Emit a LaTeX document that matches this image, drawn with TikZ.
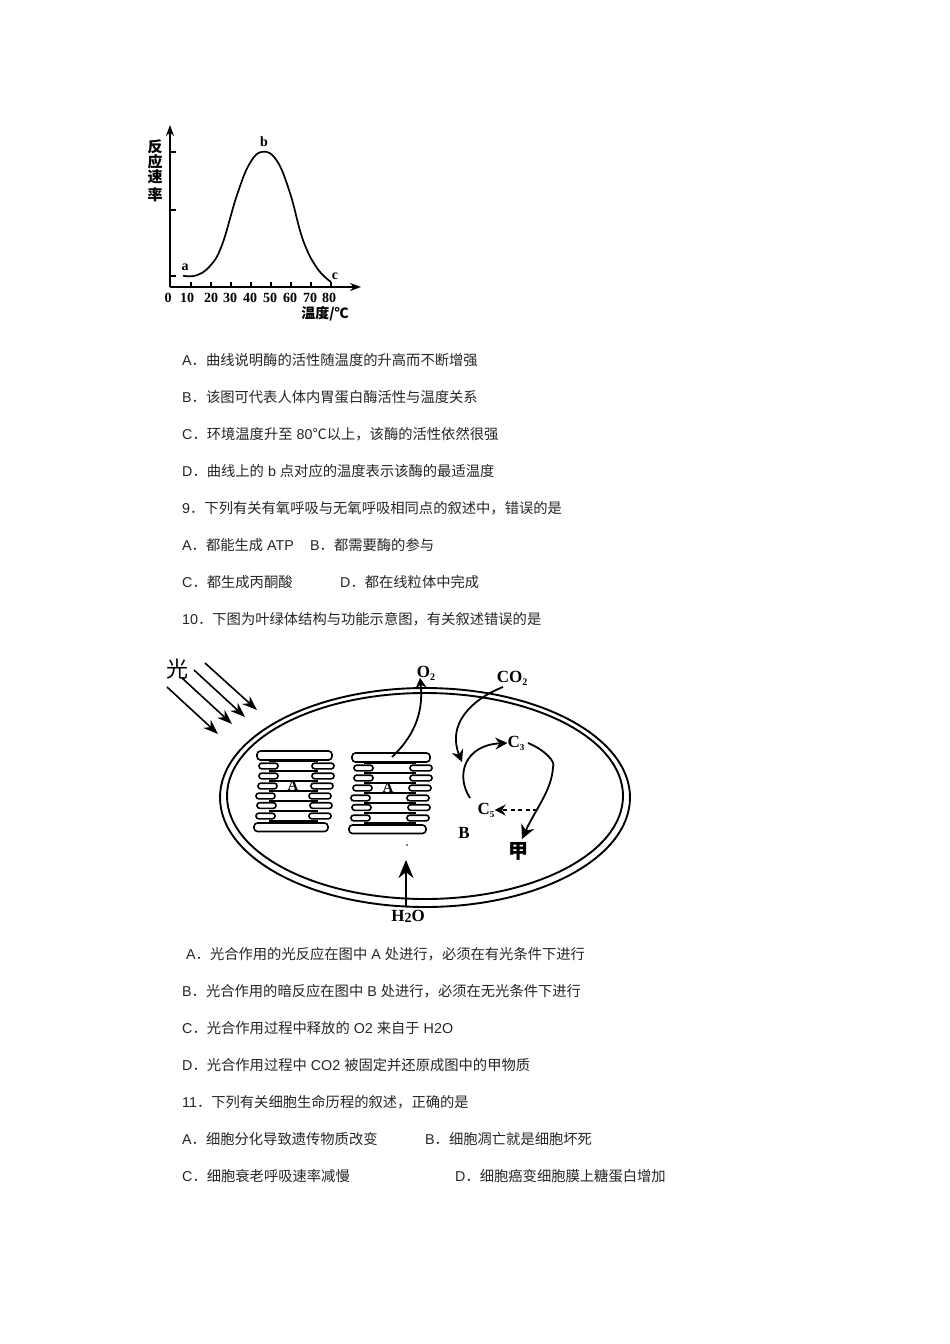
\documentclass[tikz,border=0pt]{standalone}
\usepackage{fontspec}
\setmainfont{Liberation Sans}
\newfontfamily\cjk{Noto Sans CJK SC}
\newfontfamily\srf{Liberation Serif}
\usetikzlibrary{arrows.meta}
\newcommand{\zh}[1]{{\cjk #1}}
\newcommand{\dt}{{\cjk ．}}
\tikzset{
 x=1pt,y=-1pt,
 doc/.style={anchor=west,inner sep=0pt,font=\fontsize{14.3}{14.3}\selectfont,text=black!85},
 ax/.style={line width=2pt,-{Stealth[length=11pt,width=8pt]}},
 tickm/.style={line width=1.4pt},
 num/.style={inner sep=0pt,font=\srf\bfseries\fontsize{14}{14}\selectfont},
 figzh/.style={inner sep=0pt,font=\cjk\bfseries\fontsize{15}{15}\selectfont},
 curve/.style={line width=1.7pt},
 membrane/.style={line width=1.9pt},
 rayarrow/.style={line width=1.6pt,-{Stealth[length=15pt,width=11pt]}},
 flow/.style={line width=1.8pt,-{Stealth[length=12pt,width=12pt]}},
 lobe/.style={line width=1.6pt,rounded corners=2.6pt,fill=white},
 bar/.style={line width=2pt},
 lab/.style={inner sep=0pt,font=\srf\bfseries\fontsize{17}{17}\selectfont},
}
\begin{document}
\begin{tikzpicture}
\useasboundingbox (0,0) rectangle (950,1344);
\fill[white] (0,0) rectangle (950,1344);
% ---- graph
\coordinate (O) at (170,287);
\coordinate (Yt) at (170,125);
\coordinate (Xt) at (361,287);
\draw[ax] (O) -- (Yt);
\draw[ax] (O) -- (Xt);
\foreach \y in {152,210,276} \draw[tickm] (170,\y) -- (176,\y);
\foreach \x in {191,211,231,251,271,291,311,331} \draw[tickm] (\x,287) -- (\x,282);
\draw[curve] plot[smooth,tension=0.7] coordinates {(183,275.7)(196,275.5)(210,266)(222,245)(237,195)(250,163)(263,151.7)(277,161)(290,193)(303,240)(317,268)(331,282)};
\foreach \x/\t/\n in {168/0/n0,187/10/n1,211/20/n2,230/30/n3,250/40/n4,270/50/n5,290/60/n6,310/70/n7,329/80/n8}
  \node[num] (\n) at (\x,298) {\t};
\node[figzh] (r1) at (155,147) {反};
\node[figzh] (r2) at (155,162) {应};
\node[figzh] (r3) at (155,177) {速};
\node[figzh] (r4) at (155,195) {率};
\node[num] (pa) at (185,267) {a};
\node[num] (pb) at (264,142) {b};
\node[num] (pc) at (335,276) {c};
\node[inner sep=0pt,font=\cjk\bfseries\fontsize{14}{14}\selectfont] (tl) at (325,314) {温度/℃};
% ---- text
\node[doc] (t1) at (182,360) {A\dt\zh{曲线说明酶的活性随温度的升高而不断增强}};
\node[doc] (t2) at (182,397) {B\dt\zh{该图可代表人体内胃蛋白酶活性与温度关系}};
\node[doc] (t3) at (182,434) {C\dt\zh{环境温度升至} 80\zh{℃以上，该酶的活性依然很强}};
\node[doc] (t4) at (182,471) {D\dt\zh{曲线上的} b \zh{点对应的温度表示该酶的最适温度}};
\node[doc] (t5) at (182,508) {9\dt\zh{下列有关有氧呼吸与无氧呼吸相同点的叙述中，错误的是}};
\node[doc] (t6) at (182,545) {A\dt\zh{都能生成} ATP};
\node[doc] (t6b) at (310,545) {B\dt\zh{都需要酶的参与}};
\node[doc] (t7) at (182,582) {C\dt\zh{都生成丙酮酸}};
\node[doc] (t7b) at (340,582) {D\dt\zh{都在线粒体中完成}};
\node[doc] (t8) at (182,619) {10\dt\zh{下图为叶绿体结构与功能示意图，有关叙述错误的是}};
\node[doc] (t9) at (186,954) {A\dt\zh{光合作用的光反应在图中} A \zh{处进行，必须在有光条件下进行}};
\node[doc] (t10) at (182,991) {B\dt\zh{光合作用的暗反应在图中} B \zh{处进行，必须在无光条件下进行}};
\node[doc] (t11) at (182,1028) {C\dt\zh{光合作用过程中释放的} O2 \zh{来自于} H2O};
\node[doc] (t12) at (182,1065) {D\dt\zh{光合作用过程中} CO2 \zh{被固定并还原成图中的甲物质}};
\node[doc] (t13) at (182,1102) {11\dt\zh{下列有关细胞生命历程的叙述，正确的是}};
\node[doc] (t14) at (182,1139) {A\dt\zh{细胞分化导致遗传物质改变}};
\node[doc] (t14b) at (425,1139) {B\dt\zh{细胞凋亡就是细胞坏死}};
\node[doc] (t15) at (182,1176) {C\dt\zh{细胞衰老呼吸速率减慢}};
\node[doc] (t15b) at (455,1176) {D\dt\zh{细胞癌变细胞膜上糖蛋白增加}};
% ---- chloroplast
\draw[membrane] (425,797.5) ellipse [x radius=205,y radius=109.5];
\draw[membrane] (425,796) ellipse [x radius=198,y radius=103];
% light
\node[inner sep=0pt,font=\cjk\fontsize{22}{22}\selectfont] (guang) at (177,669) {光};
\foreach \a/\b/\c/\d in {205/663/257/710,194/670/245/717,182/678/232/724,167/687/218/734}
  \draw[rayarrow] (\a,\b) -- (\c,\d);
% grana
\foreach \ox/\oy/\w in {257/0/75,352/2/78}{
 \begin{scope}[shift={(\ox,\oy)}]
  \foreach \yy in {761,771,781,791,800.5,810.5,821}
    \draw[bar] (12,\yy) -- (\w-14,\yy);
  \foreach \yy/\d in {766/2,776/2,786/1,796/-1,805.5/0,816/-1}{
    \draw[lobe] (\d,\yy-2.8) rectangle (\d+19,\yy+2.8);
    \draw[lobe] (\d+\w-22,\yy-2.8) rectangle (\d+\w,\yy+2.8);
  }
  \draw[lobe,rounded corners=3.5pt] (0,751) rectangle (\w,760);
  \draw[lobe,rounded corners=3.5pt] (-3,823) rectangle (\w-4,831.5);
  \node[inner sep=0pt,font=\srf\bfseries\fontsize{15}{15}\selectfont] (lab\ox) at (36,786) {A};
 \end{scope}
}
% labels
\node[lab] (o2) at (426,673) {O\raisebox{-3pt}{\fontsize{10}{10}\selectfont 2}};
\node[lab] (co2) at (512,678) {CO\raisebox{-3pt}{\fontsize{10}{10}\selectfont 2}};
\node[lab] (c3) at (516,743) {C\raisebox{-3pt}{\fontsize{9}{9}\selectfont 3}};
\node[lab] (c5) at (486,810) {C\raisebox{-3pt}{\fontsize{9}{9}\selectfont 5}};
\node[lab] (bb) at (464,833) {B};
\node[inner sep=0pt,font=\cjk\bfseries\fontsize{20}{20}\selectfont] (jia) at (518,851) {甲};
\node[lab] (h2o) at (408,916) {H\raisebox{-1pt}{\fontsize{14}{14}\selectfont 2}O};
% flows
\coordinate (s1) at (392,757);
\draw[flow,-{Stealth[length=10pt,width=11pt]}] (s1) .. controls (412,738) and (424,715) .. (420,678);
\coordinate (s2) at (503,687);
\coordinate (e2) at (462,762);
\draw[flow] (s2) .. controls (470,700) and (447,725) .. (e2);
\coordinate (s3) at (470,798);
\draw[flow] (s3) .. controls (455,775) and (465,745) .. (c3.west);
\coordinate (s4) at (528,743);
\coordinate (m4) at (553,767);
\coordinate (e4) at (522,839);
\draw[flow,-{Stealth[length=14pt,width=14pt]}] (s4) .. controls (545,750) and (556,762) .. (m4) .. controls (552,790) and (535,810) .. (e4);
\coordinate (s5) at (537,810);
\draw[line width=2pt,dash pattern=on 4pt off 3.5pt,-{Stealth[length=11pt,width=11pt]}] (s5) -- (c5.east);
\coordinate (s6) at (406,906);
\coordinate (e6) at (406,860);
\draw[line width=2.2pt,-{Stealth[length=18pt,width=15pt]}] (s6) -- (e6);
\fill (407,845) circle (0.9);
\end{tikzpicture}
\end{document}
